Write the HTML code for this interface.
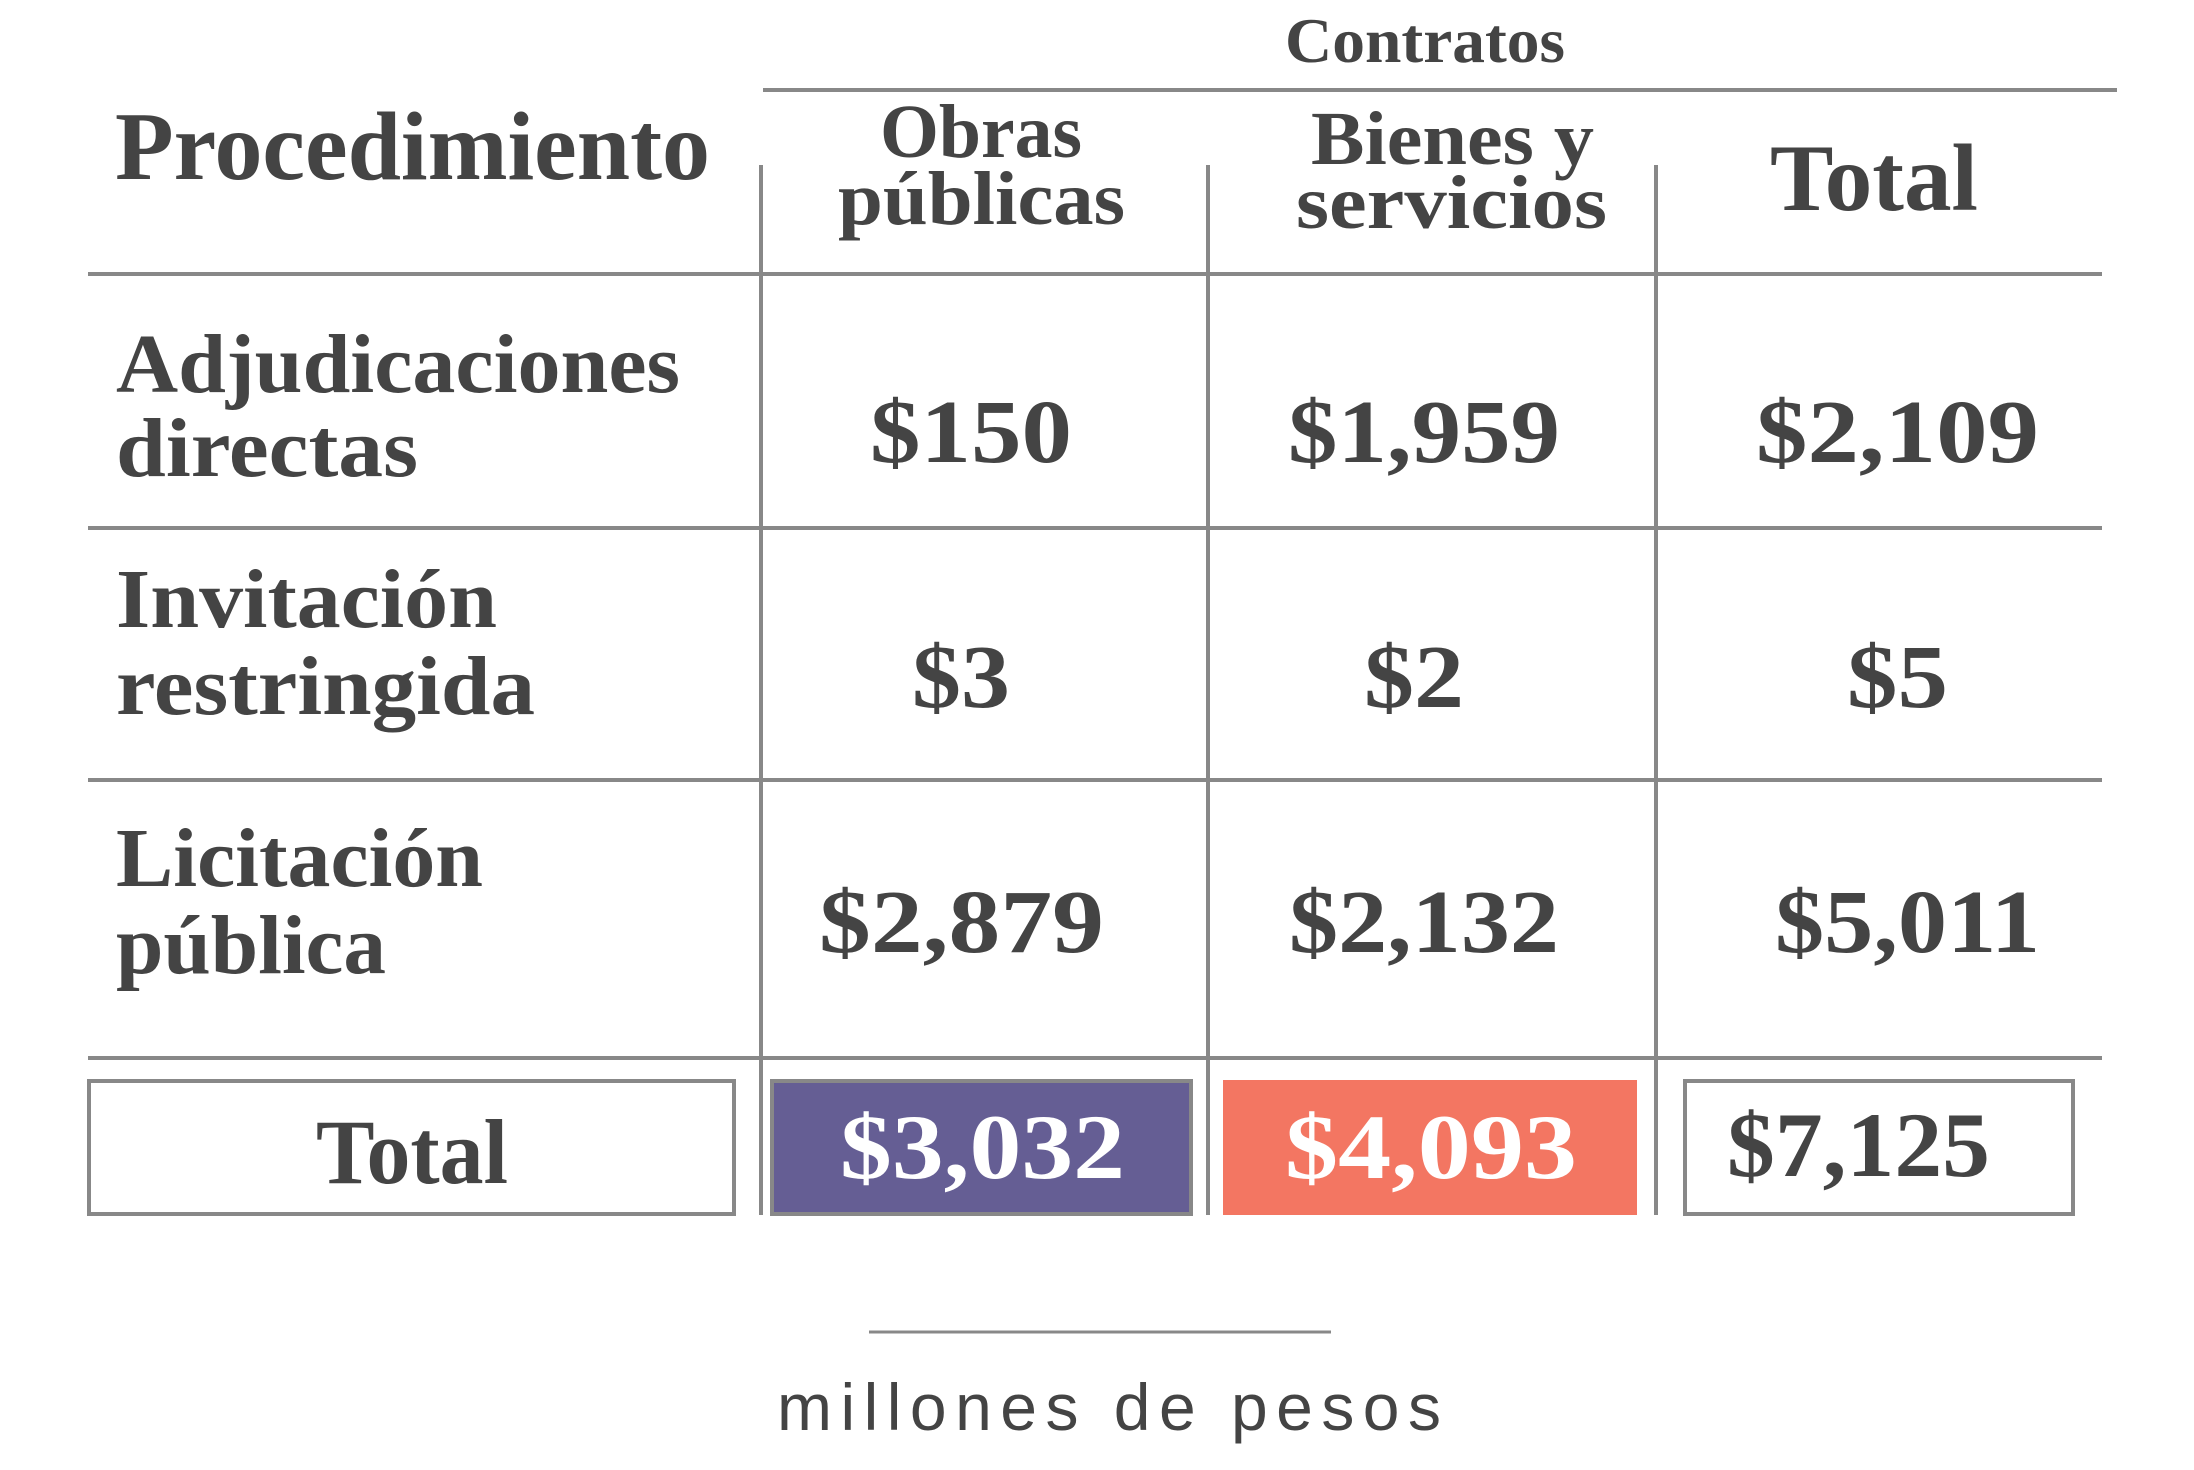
<!DOCTYPE html>
<html><head><meta charset="utf-8"><style>
html,body{margin:0;padding:0;background:#fff;}
svg{display:block;}
text{font-family:"Liberation Serif",serif;font-weight:bold;fill:#444;}
.m{font-family:"Liberation Sans",sans-serif;font-weight:normal;}
</style></head><body>
<svg width="2194" height="1470" viewBox="0 0 2194 1470" xmlns="http://www.w3.org/2000/svg">
<g stroke="#888" stroke-width="4" fill="none">
<line x1="763" y1="90" x2="2117" y2="90"/>
<line x1="88" y1="274" x2="2102" y2="274"/>
<line x1="88" y1="528" x2="2102" y2="528"/>
<line x1="88" y1="780" x2="2102" y2="780"/>
<line x1="88" y1="1058" x2="2102" y2="1058"/>
<line x1="761" y1="165" x2="761" y2="1215"/>
<line x1="1208" y1="165" x2="1208" y2="1215"/>
<line x1="1656" y1="165" x2="1656" y2="1215"/>
<rect x="89" y="1081" width="645" height="133" fill="#fff"/>
<rect x="772" y="1081" width="419" height="133" fill="#655e94"/>
<rect x="1685" y="1081" width="388" height="133" fill="#fff"/>
<line x1="869" y1="1332" x2="1331" y2="1332" stroke-width="3"/>
</g>
<rect x="1223" y="1080" width="414" height="135" fill="#f37662"/>
<g>
<text x="1285" y="62" font-size="64" textLength="280" lengthAdjust="spacingAndGlyphs">Contratos</text>
<text x="115" y="179" font-size="97" textLength="595" lengthAdjust="spacingAndGlyphs">Procedimiento</text>
<text x="880" y="157" font-size="76" textLength="202" lengthAdjust="spacingAndGlyphs">Obras</text>
<text x="838" y="224" font-size="76" textLength="287" lengthAdjust="spacingAndGlyphs">públicas</text>
<text x="1311" y="164" font-size="76" textLength="283" lengthAdjust="spacingAndGlyphs">Bienes y</text>
<text x="1296" y="228" font-size="76" textLength="311" lengthAdjust="spacingAndGlyphs">servicios</text>
<text x="1770" y="210" font-size="95" textLength="208" lengthAdjust="spacingAndGlyphs">Total</text>

<text x="116" y="392" font-size="84" textLength="564" lengthAdjust="spacingAndGlyphs">Adjudicaciones</text>
<text x="116" y="476" font-size="84" textLength="302" lengthAdjust="spacingAndGlyphs">directas</text>
<text x="116" y="627" font-size="84" textLength="381" lengthAdjust="spacingAndGlyphs">Invitación</text>
<text x="116" y="714" font-size="84" textLength="419" lengthAdjust="spacingAndGlyphs">restringida</text>
<text x="116" y="886" font-size="84" textLength="367" lengthAdjust="spacingAndGlyphs">Licitación</text>
<text x="116" y="973" font-size="84" textLength="270" lengthAdjust="spacingAndGlyphs">pública</text>

<text x="870" y="462" font-size="90" textLength="202" lengthAdjust="spacingAndGlyphs">$150</text>
<text x="1288" y="462" font-size="90" textLength="272" lengthAdjust="spacingAndGlyphs">$1,959</text>
<text x="1756" y="462" font-size="90" textLength="283" lengthAdjust="spacingAndGlyphs">$2,109</text>
<text x="912" y="707" font-size="90" textLength="98" lengthAdjust="spacingAndGlyphs">$3</text>
<text x="1364" y="707" font-size="90" textLength="100" lengthAdjust="spacingAndGlyphs">$2</text>
<text x="1847" y="707" font-size="90" textLength="101" lengthAdjust="spacingAndGlyphs">$5</text>
<text x="819" y="952" font-size="90" textLength="285" lengthAdjust="spacingAndGlyphs">$2,879</text>
<text x="1289" y="952" font-size="90" textLength="270" lengthAdjust="spacingAndGlyphs">$2,132</text>
<text x="1775" y="952" font-size="90" textLength="265" lengthAdjust="spacingAndGlyphs">$5,011</text>

<text x="316" y="1183" font-size="92" textLength="192" lengthAdjust="spacingAndGlyphs">Total</text>
<text x="840" y="1178" font-size="92" textLength="285" lengthAdjust="spacingAndGlyphs" style="fill:#fff">$3,032</text>
<text x="1285" y="1178" font-size="92" textLength="292" lengthAdjust="spacingAndGlyphs" style="fill:#fff">$4,093</text>
<text x="1727" y="1176" font-size="92" textLength="263" lengthAdjust="spacingAndGlyphs">$7,125</text>

<text class="m" x="777" y="1430" font-size="66" textLength="664" lengthAdjust="spacing" style="fill:#444">millones de pesos</text>
</g>
</svg>
</body></html>
